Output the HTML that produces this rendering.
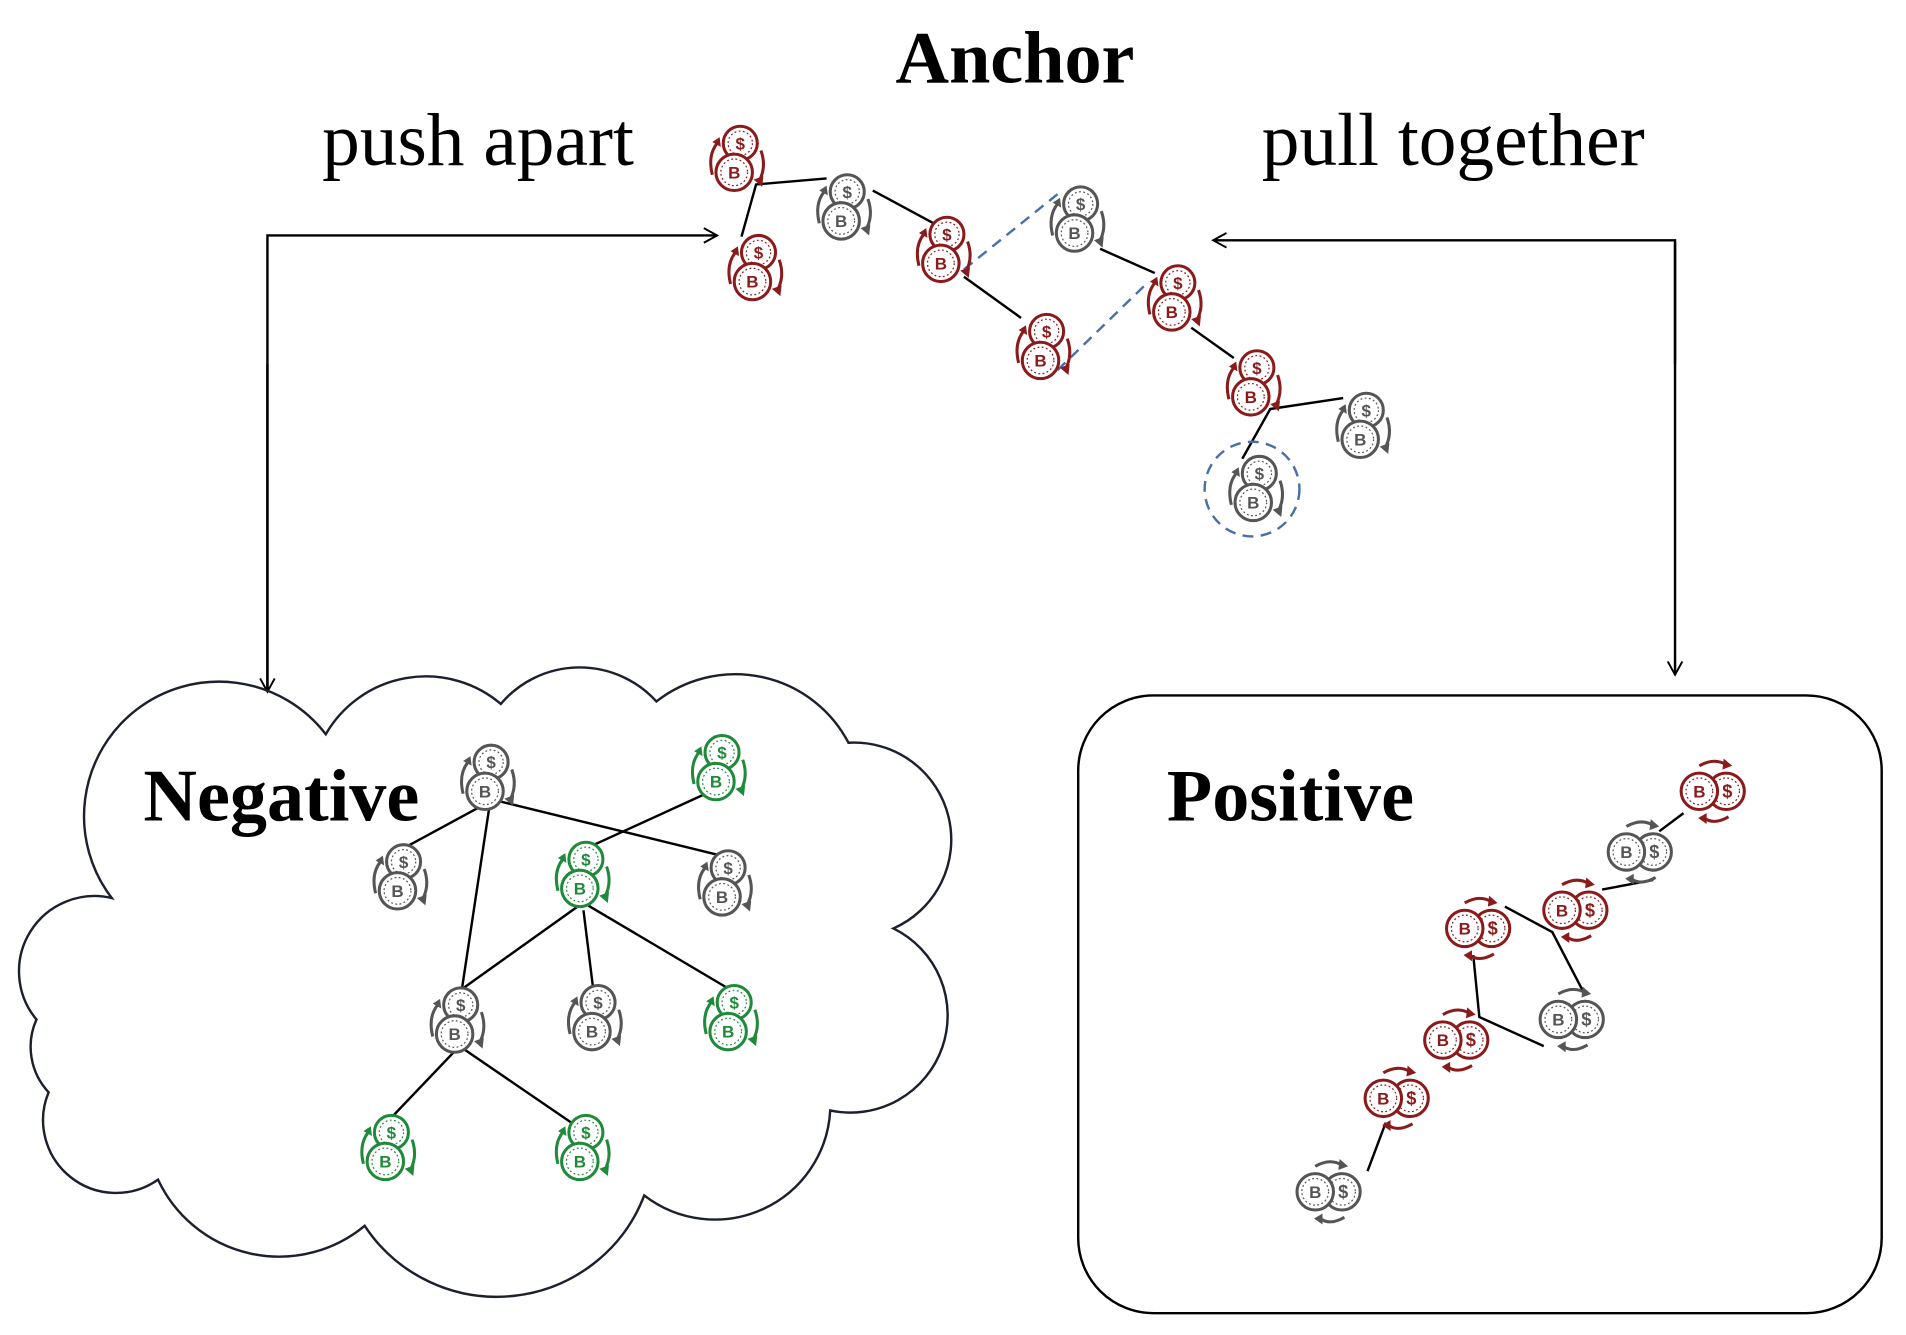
<!DOCTYPE html>
<html><head><meta charset="utf-8"><style>
html,body{margin:0;padding:0;background:#fff;}
svg{display:block}
text{font-family:"Liberation Serif",serif;fill:#000}
</style></head><body>
<svg width="1906" height="1335" viewBox="0 0 1568 1100" preserveAspectRatio="none" xmlns="http://www.w3.org/2000/svg">
<defs>
<marker id="ah" markerWidth="14" markerHeight="14" refX="12" refY="7" orient="auto" markerUnits="userSpaceOnUse">
<path d="M1,1 L12,7 L1,13" fill="none" stroke="#000" stroke-width="1.6"/></marker>
<g id="cv">
<circle cx="4" cy="-12" r="14" fill="#fff" stroke="currentColor" stroke-width="2.5"/>
<circle cx="4" cy="-12" r="10" fill="none" stroke="currentColor" stroke-width="1" stroke-dasharray="1.5 2"/>
<text x="4" y="-7" font-size="14" font-weight="bold" text-anchor="middle" style="fill:currentColor;font-family:'Liberation Sans',sans-serif">$</text>
<circle cx="-1" cy="12" r="15" fill="#fff" stroke="currentColor" stroke-width="2.5"/>
<circle cx="-1" cy="12" r="11" fill="none" stroke="currentColor" stroke-width="1" stroke-dasharray="1.5 2"/>
<text x="-1" y="17" font-size="14" font-weight="bold" text-anchor="middle" style="fill:currentColor;font-family:'Liberation Sans',sans-serif">B</text>
<path d="M-19,14 Q-23,-2 -15,-12" fill="none" stroke="currentColor" stroke-width="2.5"/>
<path d="M-19,-13 L-13,-17 L-12,-9 z" fill="currentColor"/>
<path d="M21,-6 Q26,8 19,20" fill="none" stroke="currentColor" stroke-width="2.5"/>
<path d="M15,18 L22,24 L23,15 z" fill="currentColor"/>
</g>
<g id="ch">
<circle cx="12" cy="0" r="15" fill="#fff" stroke="currentColor" stroke-width="2.5"/>
<circle cx="12" cy="0" r="11" fill="none" stroke="currentColor" stroke-width="1" stroke-dasharray="1.5 2"/>
<text x="13" y="5" font-size="15" font-weight="bold" text-anchor="middle" style="fill:currentColor;font-family:'Liberation Sans',sans-serif">$</text>
<circle cx="-10" cy="0" r="15" fill="#fff" stroke="currentColor" stroke-width="2.5"/>
<circle cx="-10" cy="0" r="11" fill="none" stroke="currentColor" stroke-width="1" stroke-dasharray="1.5 2"/>
<text x="-10" y="5" font-size="14" font-weight="bold" text-anchor="middle" style="fill:currentColor;font-family:'Liberation Sans',sans-serif">B</text>
<path d="M-10,-21 Q2,-28 12,-22" fill="none" stroke="currentColor" stroke-width="2.5"/>
<path d="M10,-27 L17,-21 L9,-18 z" fill="currentColor"/>
<path d="M14,21 Q2,28 -6,22" fill="none" stroke="currentColor" stroke-width="2.5"/>
<path d="M-4,18 L-11,22 L-4,27 z" fill="currentColor"/>
</g>
</defs>

<text x="835" y="68" font-size="61" font-weight="bold" text-anchor="middle">Anchor</text>
<text x="265" y="136" font-size="62">push apart</text>
<text x="1038" y="136" font-size="62">pull together</text>

<path d="M220,568 L220,194 L590,194" fill="none" stroke="#000" stroke-width="2" marker-end="url(#ah)"/>
<path d="M220,300 L220,570" fill="none" stroke="#000" stroke-width="2" marker-end="url(#ah)"/>
<path d="M1378,300 L1378,198 L998,198" fill="none" stroke="#000" stroke-width="2" marker-end="url(#ah)"/>
<path d="M1378,200 L1378,556" fill="none" stroke="#000" stroke-width="2" marker-end="url(#ah)"/>

<g stroke="#000" stroke-width="2" fill="none">
<path d="M680,147 L622,152 L610,195"/>
<path d="M718,157 L770,185"/>
<path d="M793,228 L840,262"/>
<path d="M905,205 L950,225"/>
<path d="M980,270 L1015,295"/>
<path d="M1105,328 L1045,337 L1022,378"/>
</g>
<g stroke="#4a6fa8" stroke-width="2" fill="none" stroke-dasharray="9 6">
<path d="M793,222 L870,160"/>
<path d="M870,305 L945,232"/>
<circle cx="1030" cy="403" r="39"/>
</g>
<use href="#cv" x="605" y="130" color="#8b1a1a"/>
<use href="#cv" x="620" y="220" color="#8b1a1a"/>
<use href="#cv" x="693" y="170" color="#555"/>
<use href="#cv" x="775" y="205" color="#8b1a1a"/>
<use href="#cv" x="885" y="180" color="#555"/>
<use href="#cv" x="857" y="285" color="#8b1a1a"/>
<use href="#cv" x="965" y="245" color="#8b1a1a"/>
<use href="#cv" x="1030" y="315" color="#8b1a1a"/>
<use href="#cv" x="1120" y="350" color="#555"/>
<use href="#cv" x="1032" y="402" color="#555"/>

<path d="M92,740 A100 100 0 0 1 268,605 A95 95 0 0 1 412,580 A85 85 0 0 1 540,578 A105 105 0 0 1 698,612 A80 80 0 0 1 735,765 A80 80 0 0 1 683,915 A95 95 0 0 1 530,985 A130 130 0 0 1 300,1010 A110 110 0 0 1 130,972 A60 60 0 0 1 40,900 A55 55 0 0 1 30,840 A62 62 0 0 1 92,740 Z" fill="none" stroke="#1c1f2e" stroke-width="2"/>
<text x="118" y="676" font-size="61" font-weight="bold">Negative</text>
<g stroke="#000" stroke-width="2" fill="none">
<path d="M400,662 L330,700"/>
<path d="M410,660 L593,705"/>
<path d="M403,662 L380,815"/>
<path d="M585,652 L480,700"/>
<path d="M478,745 L380,815"/>
<path d="M480,750 L488,815"/>
<path d="M482,745 L600,815"/>
<path d="M378,862 L318,925"/>
<path d="M378,862 L470,925"/>
</g>
<use href="#cv" x="400" y="640" color="#555"/>
<use href="#cv" x="590" y="632" color="#1f8a3a"/>
<use href="#cv" x="328" y="722" color="#555"/>
<use href="#cv" x="478" y="720" color="#1f8a3a"/>
<use href="#cv" x="595" y="727" color="#555"/>
<use href="#cv" x="375" y="840" color="#555"/>
<use href="#cv" x="488" y="838" color="#555"/>
<use href="#cv" x="600" y="838" color="#1f8a3a"/>
<use href="#cv" x="318" y="945" color="#1f8a3a"/>
<use href="#cv" x="478" y="945" color="#1f8a3a"/>

<rect x="887" y="573" width="661" height="509" rx="62" fill="none" stroke="#000" stroke-width="2"/>
<text x="960" y="676" font-size="61" font-weight="bold">Positive</text>
<g stroke="#000" stroke-width="2" fill="none">
<path d="M1385,670 L1365,685"/>
<path d="M1318,733 L1360,725"/>
<path d="M1238,747 L1277,768 L1303,818"/>
<path d="M1212,787 L1217,838 L1270,862"/>
<path d="M1140,925 L1125,965"/>
</g>
<use href="#ch" x="1408" y="652" color="#8b1a1a"/>
<use href="#ch" x="1348" y="702" color="#555"/>
<use href="#ch" x="1295" y="750" color="#8b1a1a"/>
<use href="#ch" x="1215" y="765" color="#8b1a1a"/>
<use href="#ch" x="1292" y="840" color="#555"/>
<use href="#ch" x="1197" y="857" color="#8b1a1a"/>
<use href="#ch" x="1148" y="905" color="#8b1a1a"/>
<use href="#ch" x="1092" y="982" color="#555"/>
</svg>
</body></html>
